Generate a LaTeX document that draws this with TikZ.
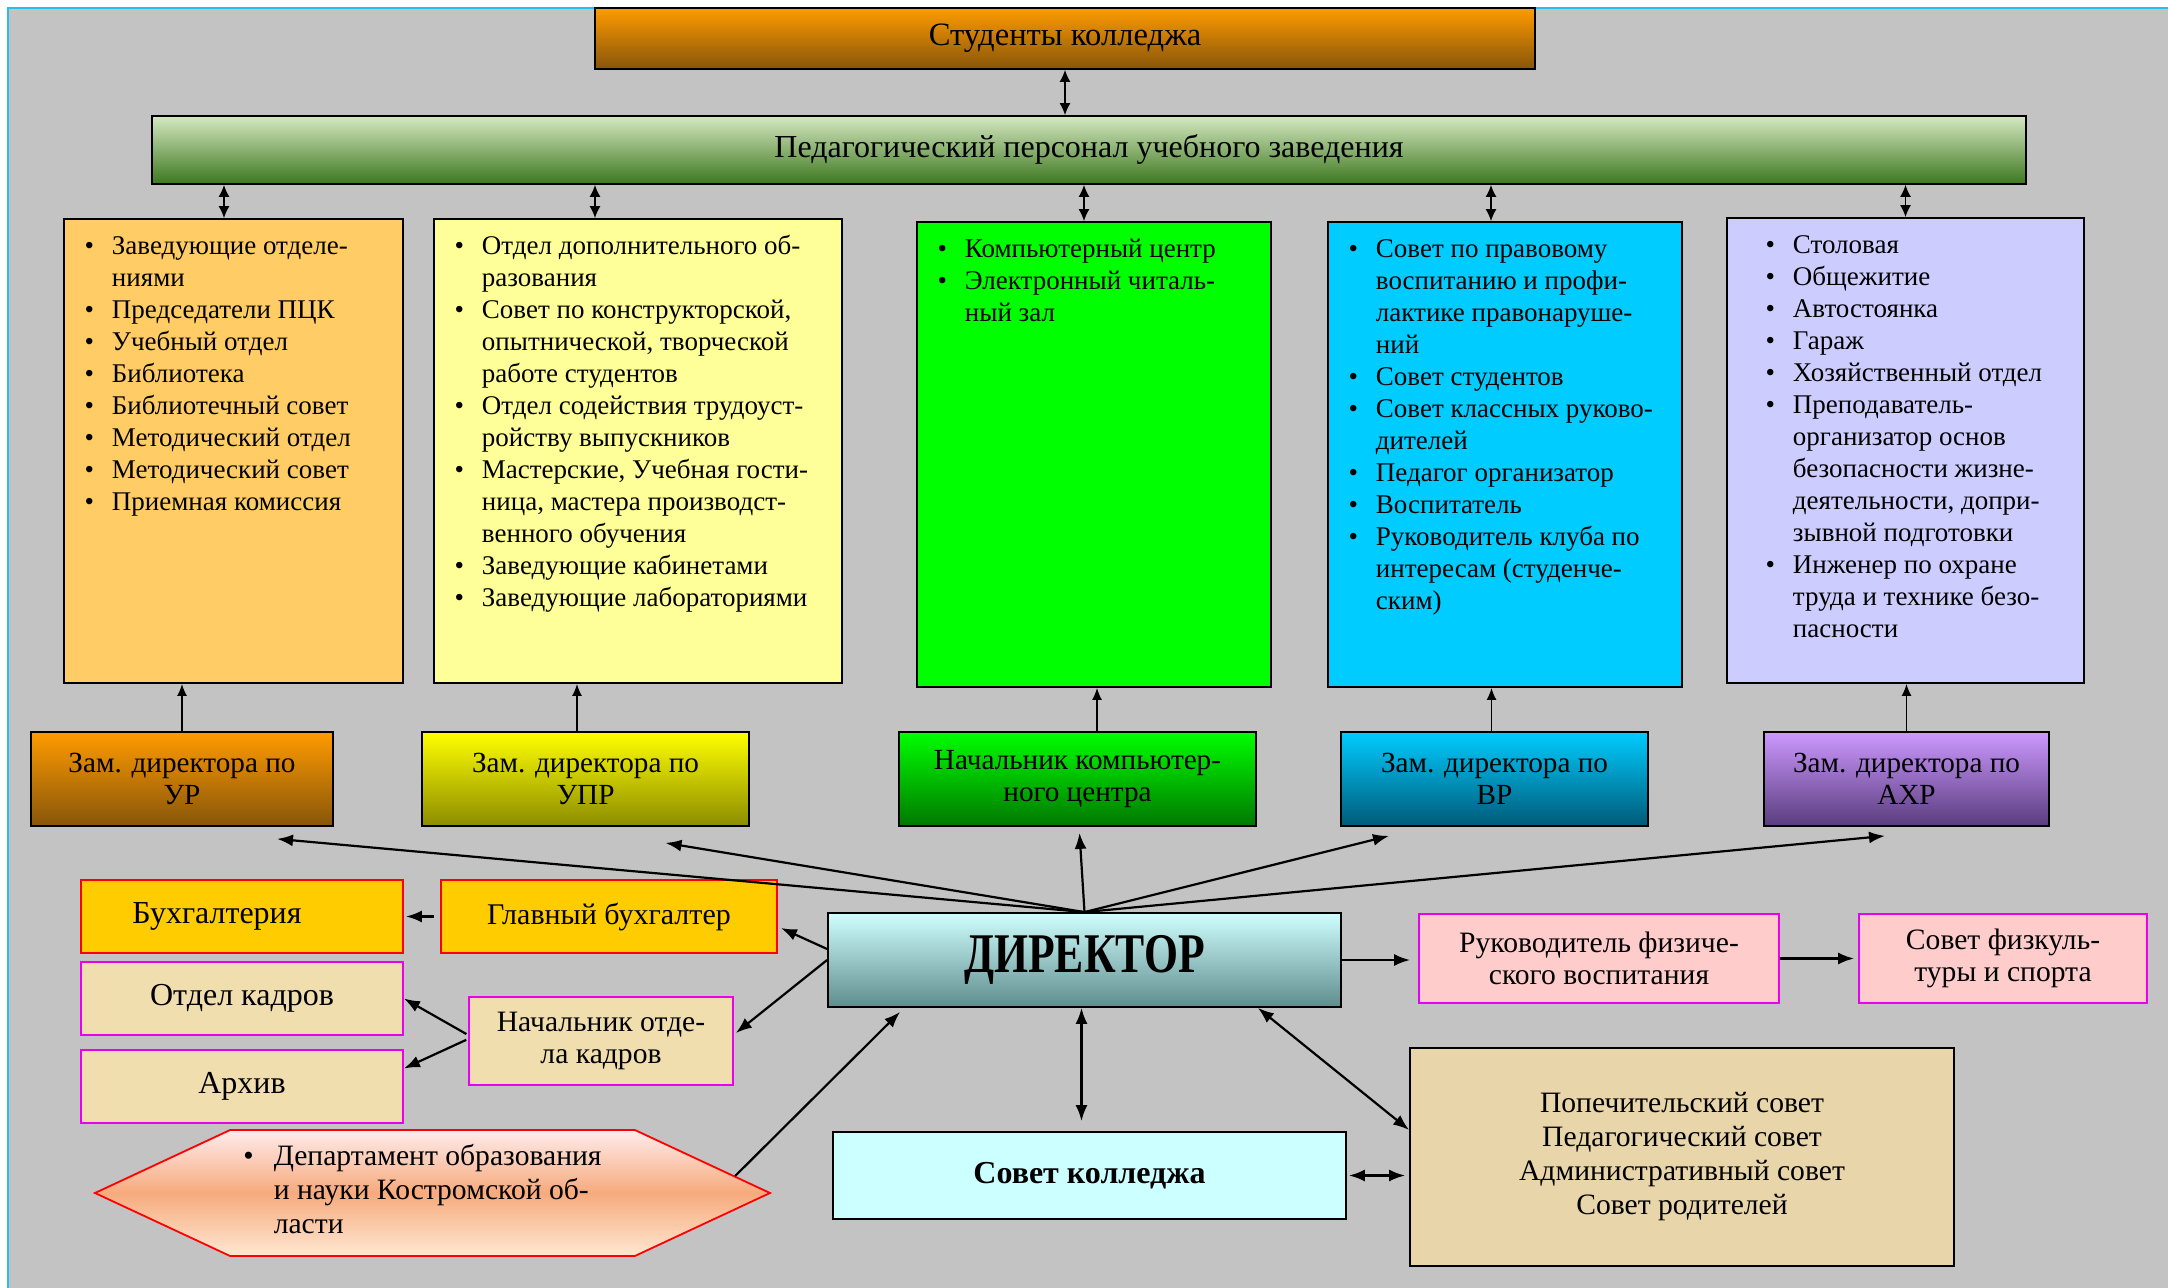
\documentclass[tikz,border=0pt]{standalone}
\usepackage{fontspec}
\setmainfont{Liberation Serif}
\usetikzlibrary{arrows.meta,shapes.symbols}

\definecolor{bgray}{RGB}{195,195,195}
\definecolor{frame}{RGB}{40,190,240}
\definecolor{orT}{RGB}{255,155,0}
\definecolor{orB}{RGB}{135,85,10}
\definecolor{grT}{RGB}{214,232,194}
\definecolor{grB}{RGB}{60,120,30}
\definecolor{colA}{RGB}{255,204,102}
\definecolor{colB}{RGB}{255,255,153}
\definecolor{colC}{RGB}{0,255,0}
\definecolor{colD}{RGB}{0,204,255}
\definecolor{colE}{RGB}{204,204,255}
\definecolor{yeB}{RGB}{140,140,0}
\definecolor{lgB}{RGB}{0,120,0}
\definecolor{cyB}{RGB}{0,90,120}
\definecolor{viT}{RGB}{204,153,255}
\definecolor{viB}{RGB}{90,60,125}
\definecolor{dirT}{RGB}{208,255,255}
\definecolor{dirB}{RGB}{95,140,140}
\definecolor{gold}{RGB}{255,204,0}
\definecolor{paper}{RGB}{240,222,175}
\definecolor{parch}{RGB}{232,214,170}
\definecolor{rose}{RGB}{255,204,204}
\definecolor{mag}{RGB}{235,0,235}
\definecolor{ice}{RGB}{204,255,255}
\definecolor{depT}{RGB}{255,236,236}
\definecolor{depM}{RGB}{246,170,125}
\definecolor{depB}{RGB}{255,232,210}

\tikzset{
  box/.style={draw=black, line width=0.9pt, align=center, inner sep=1pt,
    font=\fontsize{14.6}{16}\selectfont},
  col/.style={draw=black, line width=0.9pt, inner sep=0pt},
  lst/.style={anchor=north west, inner sep=0pt, font=\fontsize{13.5}{16}\selectfont},
  goldbox/.style={box, draw=red, fill=gold},
  paperbox/.style={box, draw=mag, fill=paper},
  rosebox/.style={box, draw=mag, fill=rose, font=\fontsize{14.8}{16}\selectfont},
  dbl/.style={{Latex[length=6pt,width=5.5pt]}-{Latex[length=6pt,width=5.5pt]}, line width=0.7pt},
  up/.style={-{Latex[length=6pt,width=5pt]}, line width=0.8pt},
  arr/.style={-{Latex[length=8pt,width=6pt]}, line width=1.1pt},
  arr2/.style={{Latex[length=8pt,width=6pt]}-{Latex[length=8pt,width=6pt]}, line width=1.1pt},
}

\begin{document}
\begin{tikzpicture}[x=0.5pt, y=-0.5pt]
\useasboundingbox (0,0) rectangle (2168,1288);
\fill[white] (0,0) rectangle (2168,1288);
\fill[bgray] (8,8) rectangle (2168,1288);
\draw[frame, line width=1pt] (8,1288) -- (8,8) -- (2168,8);

% top two bars
\node[box, top color=orT, bottom color=orB, minimum width=470pt, minimum height=30.5pt, font=\fontsize{16.3}{18}\selectfont] (st) at (1065,38.5) {Студенты колледжа};
\node[box, top color=grT, bottom color=grB, minimum width=937pt, minimum height=34pt, font=\fontsize{16}{18}\selectfont] (ped) at (1089,150) {Педагогический персонал учебного заведения};
\draw[dbl] (st.south) -- (st.south |- ped.north);

% columns
\node[col, fill=colA, minimum width=169.5pt, minimum height=232pt] (c1) at (233.5,451) {};
\node[col, fill=colB, minimum width=204pt, minimum height=232pt] (c2) at (638,451) {};
\node[col, fill=colC, minimum width=177pt, minimum height=232.5pt] (c3) at (1094,454.5) {};
\node[col, fill=colD, minimum width=177pt, minimum height=232.5pt] (c4) at (1505,454.5) {};
\node[col, fill=colE, minimum width=178.5pt, minimum height=232.5pt] (c5) at (1905.5,450.5) {};

\node[lst] (t1) at ([xshift=10.5pt,yshift=-6.8pt]c1.north west) {\begin{tabular}{@{}l@{\hspace{9pt}}l@{}}
\textbullet & Заведующие отделе-\\ & ниями\\
\textbullet & Председатели ПЦК\\
\textbullet & Учебный отдел\\
\textbullet & Библиотека\\
\textbullet & Библиотечный совет\\
\textbullet & Методический отдел\\
\textbullet & Методический совет\\
\textbullet & Приемная комиссия
\end{tabular}};
\node[lst] (t2) at ([xshift=10.5pt,yshift=-6.8pt]c2.north west) {\begin{tabular}{@{}l@{\hspace{9pt}}l@{}}
\textbullet & Отдел дополнительного об-\\ & разования\\
\textbullet & Совет по конструкторской,\\ & опытнической, творческой\\ & работе студентов\\
\textbullet & Отдел содействия трудоуст-\\ & ройству выпускников\\
\textbullet & Мастерские, Учебная гости-\\ & ница, мастера производст-\\ & венного обучения\\
\textbullet & Заведующие кабинетами\\
\textbullet & Заведующие лабораториями
\end{tabular}};
\node[lst] (t3) at ([xshift=10.5pt,yshift=-6.8pt]c3.north west) {\begin{tabular}{@{}l@{\hspace{9pt}}l@{}}
\textbullet & Компьютерный центр\\
\textbullet & Электронный читаль-\\ & ный зал
\end{tabular}};
\node[lst] (t4) at ([xshift=10.5pt,yshift=-6.8pt]c4.north west) {\begin{tabular}{@{}l@{\hspace{9pt}}l@{}}
\textbullet & Совет по правовому\\ & воспитанию и профи-\\ & лактике правонаруше-\\ & ний\\
\textbullet & Совет студентов\\
\textbullet & Совет классных руково-\\ & дителей\\
\textbullet & Педагог организатор\\
\textbullet & Воспитатель\\
\textbullet & Руководитель клуба по\\ & интересам (студенче-\\ & ским)
\end{tabular}};
\node[lst] (t5) at ([xshift=19.5pt,yshift=-6.8pt]c5.north west) {\begin{tabular}{@{}l@{\hspace{9pt}}l@{}}
\textbullet & Столовая\\
\textbullet & Общежитие\\
\textbullet & Автостоянка\\
\textbullet & Гараж\\
\textbullet & Хозяйственный отдел\\
\textbullet & Преподаватель-\\ & организатор основ\\ & безопасности жизне-\\ & деятельности, допри-\\ & зывной подготовки\\
\textbullet & Инженер по охране\\ & труда и технике безо-\\ & пасности
\end{tabular}};

\foreach \c/\s in {c1/-4.75,c2/-21.5,c3/-5,c4/-7,c5/0}
  \draw[dbl] ([xshift=\s pt]\c.north) -- ([xshift=\s pt]\c.north |- ped.south);

% deputies
\node[box, top color=orT, bottom color=orB, minimum width=151pt, minimum height=47pt] (ur) at (182,779) {Зам. директора по\\УР};
\node[box, top color=yellow, bottom color=yeB, minimum width=163.5pt, minimum height=47pt] (upr) at (585.5,779) {Зам. директора по\\УПР};
\node[box, top color=colC, bottom color=lgB, minimum width=178.5pt, minimum height=47pt] (nkc) at (1077.5,779) {Начальник компьютер-\\ного центра};
\node[box, top color=colD, bottom color=cyB, minimum width=153.5pt, minimum height=47pt] (vr) at (1494.5,779) {Зам. директора по\\ВР};
\node[box, top color=viT, bottom color=viB, minimum width=142.5pt, minimum height=47pt] (ahr) at (1906.5,779) {Зам. директора по\\АХР};

\foreach \z/\c/\s in {ur/c1/0,upr/c2/-4.25,nkc/c3/9.75,vr/c4/-1.5,ahr/c5/0}
  \draw[up] ([xshift=\s pt]\z.north) -- ([xshift=\s pt]\z.north |- \c.south);

% director and the rest
\node[box, top color=dirT, bottom color=dirB, minimum width=256.5pt, minimum height=47pt] (dir) at (1084.5,960) {\fontsize{28}{30}\selectfont\bfseries\scalebox{0.78}[1]{ДИРЕКТОР}};
\node[goldbox, minimum width=168pt, minimum height=36.5pt, font=\fontsize{15}{17}\selectfont] (gb) at (609,916.5) {Главный бухгалтер};
\node[goldbox, minimum width=161pt, minimum height=36.5pt, font=\fontsize{16}{18}\selectfont] (buh) at (242,916.5) {\hspace*{-25pt}Бухгалтерия};
\node[paperbox, minimum width=161pt, minimum height=36.5pt, font=\fontsize{16}{18}\selectfont] (ok) at (242,998.5) {Отдел кадров};
\node[paperbox, minimum width=161pt, minimum height=36.5pt, font=\fontsize{16}{18}\selectfont] (arh) at (242,1086.5) {Архив};
\node[paperbox, minimum width=132pt, minimum height=44pt, font=\fontsize{14.8}{16}\selectfont] (nok) at (601,1041) {Начальник отде-\\ла кадров};
\node[box, signal, signal to=west and east, signal pointer angle=50, draw=red, top color=depT, bottom color=depB, middle color=depM, minimum width=337.5pt, minimum height=63pt, inner sep=0pt, font=\fontsize{14.8}{17}\selectfont] (dep) at (432.5,1193) {\begin{tabular}{@{}l@{\hspace{10pt}}l@{}}
\textbullet & Департамент образования\\ & и науки Костромской об-\\ & ласти
\end{tabular}\hspace{10pt}};
\node[box, fill=ice, minimum width=256.5pt, minimum height=43.5pt, font=\fontsize{16}{18}\selectfont\bfseries] (sk) at (1089.5,1175.5) {Совет колледжа};
\node[box, fill=parch, minimum width=272pt, minimum height=109pt, font=\fontsize{14.8}{17}\selectfont] (par) at (1682,1157) {Попечительский совет\\Педагогический совет\\Административный совет\\Совет родителей};
\node[rosebox, minimum width=180pt, minimum height=44.5pt] (ruk) at (1599,958.5) {Руководитель физиче-\\ского воспитания};
\node[rosebox, minimum width=144pt, minimum height=44.5pt] (sf) at (2003,958.5) {Совет физкуль-\\туры и спорта};

\draw[arr] (dir.north) -- ([xshift=47.5pt,yshift=-6pt]ur.south);
\draw[arr] (dir.north) -- ([xshift=40pt,yshift=-8pt]upr.south);
\draw[arr] (dir.north) -- ([xshift=1pt,yshift=-3pt]nkc.south);
\draw[arr] (dir.north) -- ([xshift=-52.75pt,yshift=-4.5pt]vr.south);
\draw[arr] (dir.north) -- ([xshift=-10.75pt,yshift=-4.5pt]ahr.south);
\draw[arr] ([yshift=5.5pt]dir.west) -- ([xshift=1.5pt,yshift=-5.75pt]gb.east);
\draw[arr] (dir.west) -- ([xshift=1pt,yshift=4pt]nok.east);
\draw[arr, shorten <=3pt, shorten >=1pt] (gb.west) -- (buh.east);
\draw[arr, shorten <=1pt] ([yshift=3pt]nok.west) -- (ok.east);
\draw[arr, shorten <=1pt] ([yshift=1pt]nok.west) -- ([yshift=9pt]arh.east);
\draw[arr] ([xshift=-18.5pt,yshift=8.5pt]dep.east) -- ([xshift=36.5pt,yshift=-2pt]dir.south west);
\draw[arr2, shorten >=5pt] ([xshift=-1.5pt]dir.south) -- ([xshift=-1.5pt]dir.south |- sk.north);
\draw[arr2] ([xshift=-42pt]dir.south east) -- ([yshift=13.5pt]par.west);
\draw[arr2, shorten <=1pt, shorten >=2pt] (sk.east) -- (sk.east -| par.west);
\draw[arr, shorten >=4pt] (dir.east) -- (dir.east -| ruk.west);
\draw[arr, shorten >=2pt] (ruk.east) -- (ruk.east -| sf.west);
\end{tikzpicture}
\end{document}
